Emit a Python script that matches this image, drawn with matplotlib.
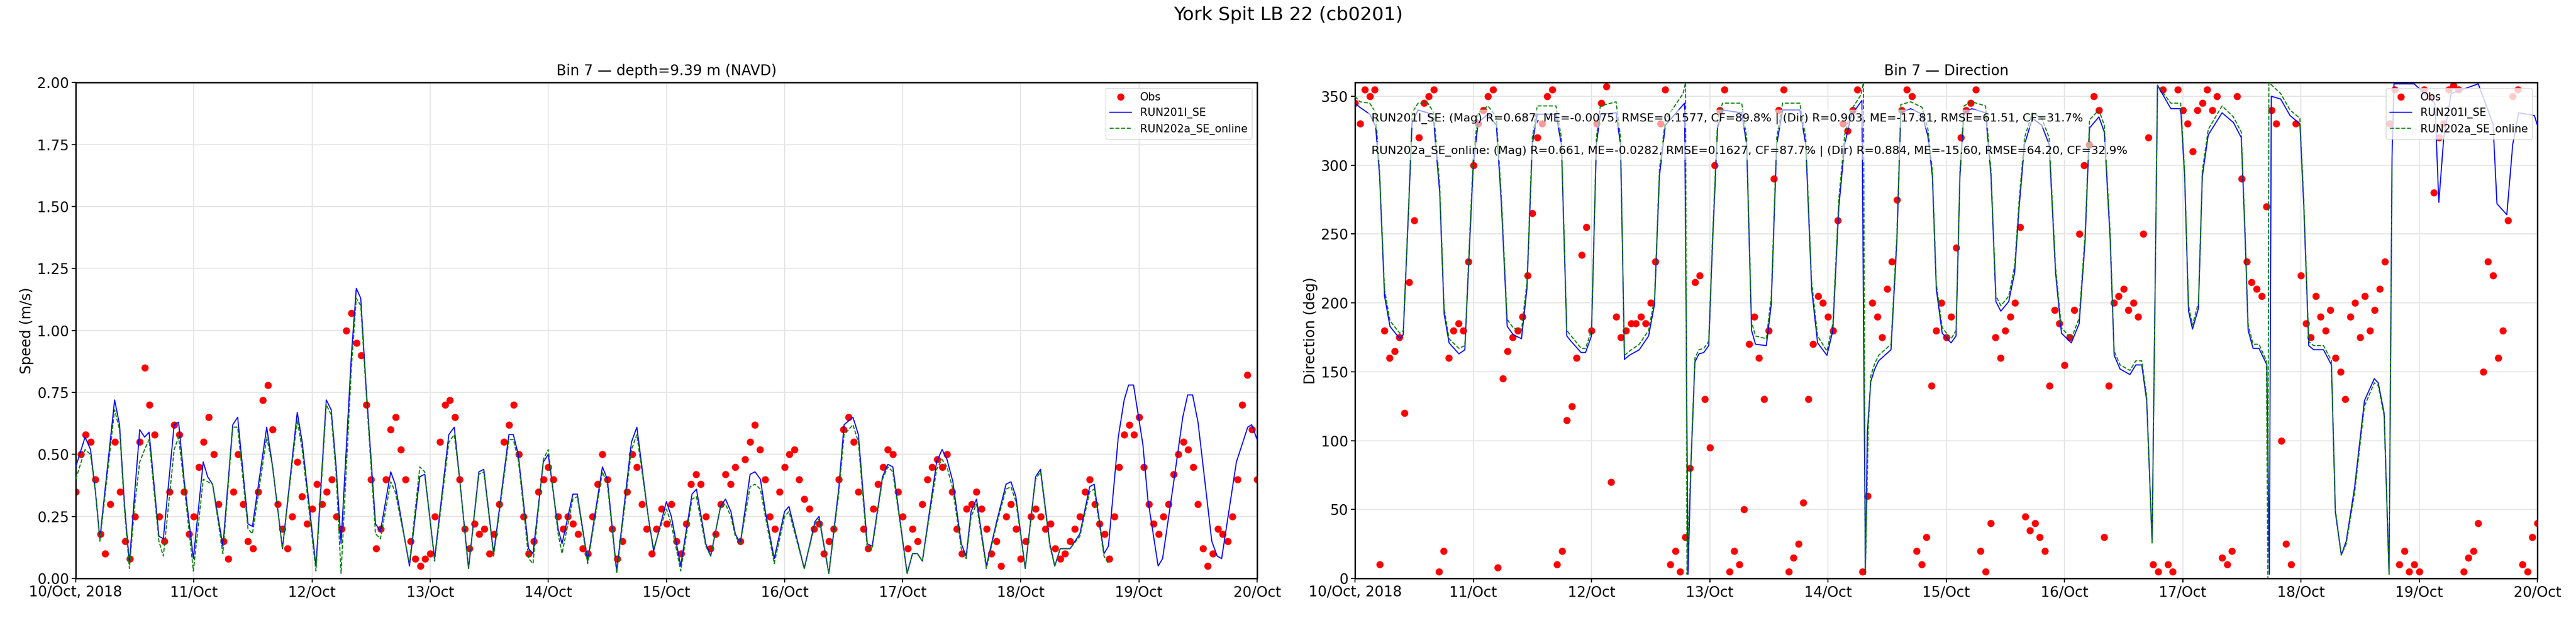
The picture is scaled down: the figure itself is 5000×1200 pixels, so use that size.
import numpy as np
import matplotlib
matplotlib.use("Agg")
import matplotlib.pyplot as plt
from datetime import datetime, timedelta

T0 = datetime(2018, 10, 10)

# ---------------- speed: RUN201l_SE (hours since 10 Oct 00:00, m/s)
spd_m1_t = [0,1.9,3.0,4.0,4.9,7.9,8.9,9.9,10.9,12,13,14,14.9,16.9,17.8,20,20.9,22,23.9,25.9,26.8,27.8,29.9,31.9,32.9,35,35.9,38.8,40,42,45,46,48.8,50.9,51.9,52.9,53.9,56,57,57.9,58.9,60.9,61.9,64,64.9,67.8,69.9,70.9,72.9,75.8,76.9,78,79.8,81.9,82.9,84.9,88,88.9,89.9,91,92,92.9,95,96,98,98.8,101,101.9,104,107,108,109.9,112.9,114,116.3,117.4,
            120,121,122.9,125.2,126.1,128,129,131,132,133.1,134,135,137,138,139.1,140.1,141.9,144,144.9,148,150.2,151,153,155,156.1,157.9,159,160.8,161.8,163.9,165,166,168.9,170,171,172,174.9,176,177,178.2,179.9,180.9,181.9,183,185,187.1,189,190,191,192.9,195,196,197.9,198.9,200,202,204,206,206.9,208.9,209.8,211.8,213,213.9,214.9,216.8,217.8,219.9,220.8,223,224.9,225.9,226.9,228,230.8,231.9,232.8,234.8,235.8,238.1,238.9,240]
spd_m1 = [0.45,0.57,0.52,0.35,0.16,0.72,0.62,0.30,0.06,0.35,0.60,0.57,0.59,0.17,0.16,0.62,0.63,0.40,0.08,0.47,0.41,0.38,0.13,0.62,0.65,0.22,0.21,0.61,0.45,0.12,0.67,0.55,0.05,0.72,0.68,0.45,0.14,0.90,1.17,1.13,0.80,0.22,0.19,0.43,0.38,0.05,0.41,0.42,0.08,0.58,0.61,0.40,0.04,0.43,0.44,0.10,0.58,0.58,0.50,0.30,0.12,0.10,0.47,0.50,0.20,0.14,0.34,0.34,0.07,0.45,0.40,0.03,0.55,0.61,0.25,0.11,
          0.31,0.25,0.05,0.34,0.36,0.14,0.09,0.29,0.32,0.27,0.18,0.14,0.42,0.43,0.40,0.27,0.08,0.27,0.29,0.04,0.23,0.25,0.02,0.36,0.62,0.65,0.58,0.14,0.13,0.41,0.46,0.45,0.02,0.10,0.10,0.07,0.47,0.52,0.48,0.39,0.14,0.09,0.27,0.32,0.05,0.23,0.38,0.39,0.33,0.04,0.41,0.44,0.14,0.05,0.12,0.12,0.18,0.37,0.38,0.10,0.13,0.57,0.72,0.78,0.78,0.54,0.32,0.05,0.08,0.38,0.65,0.74,0.74,0.63,0.15,0.09,0.08,0.34,0.47,0.61,0.62,0.56]

# ---------------- speed: RUN202a_SE_online (ends ~18 Oct 18:00)
spd_m2_t = [0,1.9,3.0,4.0,4.9,7.9,8.9,9.9,10.9,12,13,14,14.9,16.9,17.8,20,20.9,22,23.9,25.9,26.8,27.8,29.9,31.9,32.9,35,35.9,38.8,40,42,45,46,48.8,50.9,51.9,52.9,53.9,56,57,57.9,58.9,60.9,61.9,64,64.9,67.8,69.9,70.9,72.9,75.8,76.9,78,79.8,81.9,82.9,84.9,88,88.9,89.9,91,92,92.9,95,96,98,98.8,101,101.9,104,107,108,109.9,112.9,114,116.3,117.4,
            120,121,122.9,125.2,126.1,128,129,131,132,133.1,134,135,137,138,139.1,140.1,141.9,144,144.9,148,150.2,151,153,155,156.1,157.9,159,160.8,161.8,163.9,165,166,168.9,170,171,172,174.9,176,177,178.2,179.9,180.9,181.9,183,185,187.1,189,190,191,192.9,195,196,197.9,198.9,200,202,204,206,206.9,208.9,209.8]
spd_m2 = [0.40,0.52,0.50,0.35,0.15,0.68,0.60,0.28,0.04,0.30,0.47,0.52,0.56,0.15,0.09,0.52,0.57,0.38,0.03,0.40,0.39,0.38,0.10,0.61,0.61,0.20,0.18,0.57,0.45,0.12,0.64,0.52,0.03,0.70,0.66,0.42,0.02,0.85,1.13,1.10,0.78,0.18,0.16,0.39,0.35,0.06,0.45,0.43,0.07,0.55,0.58,0.40,0.04,0.42,0.43,0.09,0.56,0.56,0.48,0.28,0.08,0.06,0.48,0.52,0.18,0.10,0.32,0.33,0.06,0.43,0.38,0.02,0.52,0.58,0.25,0.12,
          0.28,0.22,0.03,0.32,0.33,0.13,0.09,0.29,0.30,0.25,0.17,0.14,0.37,0.38,0.36,0.25,0.06,0.25,0.27,0.04,0.22,0.24,0.02,0.34,0.58,0.62,0.55,0.12,0.12,0.40,0.45,0.43,0.02,0.10,0.10,0.07,0.44,0.48,0.45,0.36,0.12,0.08,0.25,0.30,0.04,0.22,0.36,0.37,0.31,0.04,0.40,0.43,0.13,0.05,0.12,0.12,0.17,0.35,0.36,0.09,0.06]

# ---------------- observed speed (hourly, m/s)
obs_spd = [0.35,0.50,0.58,0.55,0.40,0.18,0.10,0.30,0.55,0.35,0.15,0.08,0.25,0.55,0.85,0.70,0.58,0.25,0.15,0.35,0.62,0.58,0.35,0.18,
           0.25,0.45,0.55,0.65,0.50,0.30,0.15,0.08,0.35,0.50,0.30,0.15,0.12,0.35,0.72,0.78,0.60,0.30,0.20,0.12,0.25,0.47,0.33,0.22,
           0.28,0.38,0.30,0.35,0.40,0.25,0.20,1.00,1.07,0.95,0.90,0.70,0.40,0.12,0.20,0.40,0.60,0.65,0.52,0.40,0.15,0.08,0.05,0.08,
           0.10,0.25,0.55,0.70,0.72,0.65,0.40,0.20,0.12,0.22,0.18,0.20,0.10,0.18,0.30,0.55,0.62,0.70,0.50,0.25,0.10,0.15,0.35,0.40,
           0.45,0.40,0.25,0.20,0.25,0.22,0.18,0.12,0.10,0.25,0.38,0.50,0.40,0.20,0.08,0.15,0.35,0.50,0.45,0.30,0.20,0.10,0.20,0.28,
           0.22,0.30,0.15,0.10,0.22,0.38,0.42,0.38,0.25,0.12,0.18,0.30,0.42,0.38,0.45,0.15,0.48,0.55,0.62,0.52,0.40,0.25,0.20,0.35,
           0.45,0.50,0.52,0.40,0.32,0.28,0.20,0.22,0.10,0.15,0.20,0.40,0.60,0.65,0.55,0.35,0.20,0.12,0.28,0.38,0.45,0.52,0.50,0.35,
           0.25,0.12,0.20,0.15,0.30,0.40,0.45,0.48,0.45,0.50,0.35,0.20,0.10,0.28,0.30,0.35,0.28,0.20,0.10,0.15,0.05,0.25,0.30,0.20,
           0.08,0.15,0.25,0.28,0.25,0.20,0.22,0.12,0.08,0.10,0.15,0.20,0.25,0.35,0.40,0.30,0.22,0.18,0.08,0.25,0.45,0.58,0.62,0.58,
           0.65,0.45,0.30,0.22,0.18,0.25,0.30,0.42,0.50,0.55,0.52,0.45,0.30,0.12,0.05,0.10,0.20,0.18,0.15,0.25,0.40,0.70,0.82,0.60,0.40]

# ---------------- direction: RUN201l_SE (deg)
dir_m1_t = [0,1,3,4.2,5,6,7.1,9.1,9.8,10.9,11.6,12.8,14.8,16,17.2,18.1,19.1,21.1,22.3,23.3,24,25,27,28.7,29.7,30.9,32.1,33.8,34.9,36,37,40.8,41.9,43,43.9,45.9,46.8,48,49,49.8,53,53.9,54.7,55.7,57.7,59.6,60.8,61.8,63,66.9,
            67.6,68.2,69.0,69.8,70.8,71.8,72.6,73.6,74.6,78.5,79.5,80.5,81.3,83.5,84.5,85.6,86.8,90.3,91.5,92.7,93.9,95.8,97,98.2,99.4,100.7,102.9,103.6,104.0,104.7,105.5,106.3,108.8,110,110.8,112.8,115.1,116.3,117.2,
            118,119.2,121,122,122.8,123.6,125.2,128,129.1,130.1,131.1,132.7,133.9,134.8,135.9,137.5,139.4,140.9,142.2,143.4,145.4,147,148.2,149.1,151,152.1,153.3,154.1,155.3,157.3,158.5,159.7,160.7,161.8,162.9,165.6,167.6,168.4,169.2,170,171.2,172,173.2,176,178.3,179.9,180.7,181.3,182.3,183.5,185.1,185.6,186.0,187.9,189.8,191.8,192.6,193.6,194.6,196.6,198.2,199,200.2,201.2,202.9,204.9,206.9,207.7,208.9,209.9,210.5,210.9,
            215,219.2,220,221,222.5,228,231,231.8,233.8,235,236.2,239.4,240]
dir_m1 = [345,342,337,328,292,205,183,174,177,269,331,340,338,331,280,192,171,163,166,245,299,331,337,329,273,183,177,174,210,315,337,337,315,176,172,164,164,176,315,337,338,315,159,162,166,176,199,292,329,345,
          3,83,157,163,164,169,245,327,340,338,315,180,170,169,199,315,340,340,315,210,171,162,180,269,315,336,347,5,106,143,152,158,166,245,338,341,337,321,292,
          210,178,171,176,292,338,341,338,292,201,194,201,222,269,315,334,329,315,222,178,171,185,245,327,335,324,245,162,152,148,155,155,129,27,358,341,341,292,194,181,196,292,322,338,331,320,245,180,167,167,155,3,350,348,336,330,269,169,166,166,155,48,17,27,66,129,145,142,120,3,306,359,
          359,345,273,320,352,359,330,272,264,315,338,336,329]

# ---------------- direction: RUN202a_SE_online (deg)
dir_m2_t = [0,1,3,4.2,5,6,7.1,9.1,9.8,10.9,11.6,12.8,14.8,16,17.2,18.1,19.1,21.1,22.3,23.3,24,25,27,28.7,29.7,30.9,32.1,33.8,34.9,36,37,40.8,41.9,43,43.9,45.9,46.8,48,49,49.8,53,53.9,54.7,55.7,57.7,59.6,60.8,61.8,63,66.6,67.1,
            67.4,68.2,69.0,69.8,70.8,71.8,72.6,73.6,74.6,78.5,79.5,80.5,81.3,83.5,84.5,85.6,86.8,90.3,91.5,92.7,93.9,95.8,97,98.2,99.4,100.7,102.7,103.2,103.6,104.2,104.7,105.5,106.3,108.8,110,110.8,112.8,115.1,116.3,117.2,
            118,119.2,121,122,122.8,123.6,125.2,128,129.1,130.1,131.1,132.7,133.9,134.8,135.9,137.5,139.4,140.9,142.2,143.4,145.4,147,148.2,149.1,151,152.1,153.3,154.1,155.3,157.3,158.5,159.7,160.7,161.8,162.9,165.6,167.6,168.4,169.2,170,171.2,172,173.2,176,178.3,179.9,180.7,181.3,182.3,183.5,185.0,185.3,185.5,187.9,189.8,191.8,192.6,193.6,194.6,196.6,198.2,199,200.2,201.2,202.9,204.9,206.9,207.7,208.9,209.9,210.5]
dir_m2 = [350,346,345,338,295,210,187,178,180,272,338,345,345,338,285,196,174,167,169,250,305,338,343,335,278,188,182,180,215,320,343,343,320,180,176,167,167,180,320,343,346,320,162,165,170,180,203,297,333,352,360,
          3,86,160,166,167,172,250,333,345,345,320,186,176,174,205,320,345,345,320,215,176,165,185,275,322,340,351,360,3,110,147,156,162,170,250,344,346,342,326,296,
          214,182,174,180,296,343,346,343,296,205,198,205,227,274,320,338,334,320,226,182,174,189,250,333,340,329,250,165,155,151,158,158,132,25,358,345,345,296,198,184,200,296,326,343,335,324,250,184,170,170,158,0,360,352,340,334,274,172,169,169,158,50,17,25,62,125,142,140,118,2,300]

# ---------------- observed direction (hourly, deg)
obs_dir = [345,330,355,350,355,10,180,160,165,175,120,215,260,320,345,350,355,5,20,160,180,185,180,230,
           300,330,340,350,355,8,145,165,175,180,190,220,265,320,330,350,355,10,20,115,125,160,235,255,
           180,330,345,357,70,190,175,180,185,185,190,185,200,230,330,355,10,20,5,30,80,215,220,130,
           95,300,340,355,5,20,10,50,170,190,160,130,180,290,340,355,5,15,25,55,130,170,205,200,
           190,180,260,330,325,340,355,5,60,200,190,175,210,230,275,340,355,350,20,10,30,140,180,200,
           175,190,240,320,340,345,355,20,5,40,175,160,180,190,200,255,45,35,40,30,20,140,195,185,
           155,175,195,250,300,315,350,340,30,140,200,205,210,195,200,190,250,320,10,5,355,10,5,355,
           340,330,310,340,345,355,340,350,15,10,20,350,290,230,215,210,205,270,340,330,100,25,10,330,
           220,185,175,205,190,180,195,160,150,130,190,200,175,205,180,195,210,230,330,355,10,20,5,10,
           5,355,350,280,320,330,355,358,355,5,15,20,40,150,230,220,160,180,260,350,355,10,5,30,40]

day_labels = ["10/Oct, 2018", "11/Oct", "12/Oct", "13/Oct", "14/Oct", "15/Oct",
              "16/Oct", "17/Oct", "18/Oct", "19/Oct", "20/Oct"]


def to_dt(hours):
    return [T0 + timedelta(hours=float(h)) for h in hours]


obs_t = to_dt(range(len(obs_spd)))

fig = plt.figure(figsize=(50, 12), dpi=100)
fig.suptitle("York Spit LB 22 (cb0201)", fontsize=26, y=0.99)

axL = fig.add_axes([0.0294, 0.064, 0.4586, 0.8025])
axR = fig.add_axes([0.526, 0.064, 0.459, 0.8025])

ms = 9
lw = 1.5
axL.plot(obs_t, obs_spd, 'o', color='red', ms=ms, label='Obs', zorder=2)
axL.plot(to_dt(spd_m1_t), spd_m1, '-', color='blue', lw=lw, label='RUN201l_SE', zorder=3)
axL.plot(to_dt(spd_m2_t), spd_m2, '--', color='green', lw=lw, label='RUN202a_SE_online', zorder=4)
axL.set_ylim(0, 2.0)
axL.set_ylabel("Speed (m/s)", fontsize=20)
axL.set_title("Bin 7 — depth=9.39 m (NAVD)", fontsize=20, pad=10)

axR.plot(obs_t, obs_dir, 'o', color='red', ms=ms, label='Obs', zorder=2)
axR.plot(to_dt(dir_m1_t), dir_m1, '-', color='blue', lw=lw, label='RUN201l_SE', zorder=3)
axR.plot(to_dt(dir_m2_t), dir_m2, '--', color='green', lw=lw, label='RUN202a_SE_online', zorder=4)
axR.set_ylim(0, 360)
axR.set_ylabel("Direction (deg)", fontsize=20)
axR.set_title("Bin 7 — Direction", fontsize=20, pad=10)

ticks = [T0 + timedelta(days=i) for i in range(11)]
for ax in (axL, axR):
    ax.set_xlim(ticks[0], ticks[-1])
    ax.set_xticks(ticks)
    ax.set_xticklabels(day_labels)
    ax.tick_params(labelsize=20, width=1.5, length=6)
    ax.grid(True, color='#e6e6e6', lw=1.5)
    ax.set_axisbelow(True)
    for s in ax.spines.values():
        s.set_linewidth(2)
    ax.legend(loc='upper right', fontsize=15, framealpha=0.8)

box = dict(boxstyle='round,pad=0.3', facecolor='white', edgecolor='none', alpha=0.6)
axR.text(0.014, 0.927, "RUN201l_SE: (Mag) R=0.687, ME=-0.0075, RMSE=0.1577, CF=89.8% | (Dir) R=0.903, ME=-17.81, RMSE=61.51, CF=31.7%",
         transform=axR.transAxes, fontsize=16, va='center', ha='left', bbox=box, zorder=6)
axR.text(0.014, 0.862, "RUN202a_SE_online: (Mag) R=0.661, ME=-0.0282, RMSE=0.1627, CF=87.7% | (Dir) R=0.884, ME=-15.60, RMSE=64.20, CF=32.9%",
         transform=axR.transAxes, fontsize=16, va='center', ha='left', bbox=box, zorder=6)

fig.savefig("out.png", dpi=100)
